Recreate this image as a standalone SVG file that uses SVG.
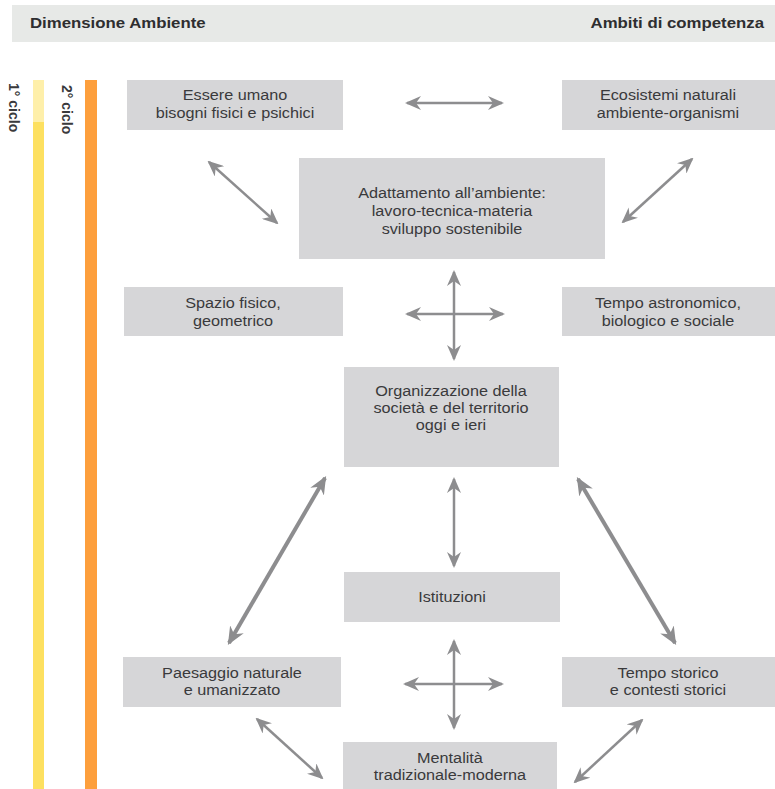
<svg xmlns="http://www.w3.org/2000/svg" width="775" height="789" viewBox="0 0 775 789">
<style>
.box{fill:#d6d6d8}
.t{font-family:"Liberation Sans",Arial,sans-serif;font-size:14.5px;fill:#3a3a3c;text-anchor:middle;transform-box:fill-box;transform-origin:center;transform:scaleX(1.12)}
.h{font-family:"Liberation Sans",Arial,sans-serif;font-size:15px;font-weight:bold;fill:#2e2e30}
.hl{transform-box:fill-box;transform-origin:left center;transform:scaleX(1.12)}
.hr{text-anchor:end;transform-box:fill-box;transform-origin:right center;transform:scaleX(1.12)}
.v{font-family:"Liberation Sans",Arial,sans-serif;font-size:14px;font-weight:bold;fill:#3a3a3c}
.a{stroke:#8d8d8f;stroke-width:2.5;fill:none;marker-start:url(#ah);marker-end:url(#ah)}
.al{stroke:#8d8d8f;stroke-width:4;fill:none;marker-start:url(#ahl);marker-end:url(#ahl)}
</style>
<defs>
<marker id="ah" viewBox="0 0 16 14" markerWidth="16" markerHeight="14" refX="14" refY="7" orient="auto-start-reverse" markerUnits="userSpaceOnUse">
<path d="M0,0 L16,7 L0,14 L5,7 z" fill="#8d8d8f"/>
</marker>
<marker id="ahl" viewBox="0 0 16 14" markerWidth="18" markerHeight="16" refX="14" refY="7" orient="auto-start-reverse" markerUnits="userSpaceOnUse">
<path d="M0,0 L16,7 L0,14 L5,7 z" fill="#8d8d8f"/>
</marker>
</defs>
<rect width="775" height="789" fill="#ffffff"/>
<g id="header">
<rect x="12" y="5" width="763" height="37" fill="#e7e9e7"/>
<text class="h hl" x="30" y="28">Dimensione Ambiente</text>
<text class="h hr" x="764" y="28">Ambiti di competenza</text>
</g>
<g id="cicli">
<rect x="33" y="80" width="11" height="42" fill="#feefaa"/>
<rect x="33" y="122" width="11" height="667" fill="#fde060"/>
<rect x="85" y="80" width="12" height="709" fill="#fd9f3c"/>
<text class="v" transform="translate(9,83) rotate(90)">1° ciclo</text>
<text class="v" transform="translate(62,85) rotate(90)">2° ciclo</text>
</g>
<g id="essere">
<rect class="box" x="127" y="80" width="216" height="50"/>
<text class="t" x="235" y="100">Essere umano</text>
<text class="t" x="235" y="118">bisogni fisici e psichici</text>
</g>
<g id="ecosistemi">
<rect class="box" x="562" y="80" width="213" height="50"/>
<text class="t" x="668" y="100">Ecosistemi naturali</text>
<text class="t" x="668" y="118">ambiente-organismi</text>
</g>
<g id="adattamento">
<rect class="box" x="299" y="158" width="306" height="101"/>
<text class="t" x="452" y="198">Adattamento all’ambiente:</text>
<text class="t" x="452" y="216">lavoro-tecnica-materia</text>
<text class="t" x="452" y="234">sviluppo sostenibile</text>
</g>
<g id="spazio">
<rect class="box" x="124" y="287" width="219" height="49"/>
<text class="t" x="233" y="308">Spazio fisico,</text>
<text class="t" x="233" y="326">geometrico</text>
</g>
<g id="tempo-astronomico">
<rect class="box" x="562" y="287" width="213" height="49"/>
<text class="t" x="668" y="308">Tempo astronomico,</text>
<text class="t" x="668" y="326">biologico e sociale</text>
</g>
<g id="organizzazione">
<rect class="box" x="344" y="367" width="215" height="100"/>
<text class="t" x="451" y="396">Organizzazione della</text>
<text class="t" x="451" y="413">società e del territorio</text>
<text class="t" x="451" y="430">oggi e ieri</text>
</g>
<g id="istituzioni">
<rect class="box" x="344" y="572" width="216" height="50"/>
<text class="t" x="452" y="602">Istituzioni</text>
</g>
<g id="paesaggio">
<rect class="box" x="123" y="657" width="218" height="50"/>
<text class="t" x="232" y="678">Paesaggio naturale</text>
<text class="t" x="232" y="695">e umanizzato</text>
</g>
<g id="tempo-storico">
<rect class="box" x="562" y="657" width="213" height="50"/>
<text class="t" x="668" y="678">Tempo storico</text>
<text class="t" x="668" y="695">e contesti storici</text>
</g>
<g id="mentalita">
<rect class="box" x="343" y="742" width="214" height="47"/>
<text class="t" x="450" y="763">Mentalità</text>
<text class="t" x="450" y="780">tradizionale-moderna</text>
</g>
<g id="connectors">
<line class="a" x1="407" y1="103" x2="502" y2="103"/>
<line class="a" x1="209" y1="162" x2="277" y2="223"/>
<line class="a" x1="692" y1="159" x2="623" y2="222"/>
<line class="a" x1="454" y1="272" x2="454" y2="359"/>
<line class="a" x1="407" y1="314" x2="503" y2="314"/>
<line class="a" x1="454" y1="479" x2="454" y2="566"/>
<line class="al" x1="325" y1="478" x2="229" y2="643"/>
<line class="al" x1="578" y1="479" x2="675" y2="643"/>
<line class="a" x1="454" y1="641" x2="454" y2="728"/>
<line class="a" x1="405" y1="684" x2="502" y2="684"/>
<line class="a" x1="257" y1="719" x2="322" y2="778"/>
<line class="a" x1="642" y1="720" x2="575" y2="782"/>
</g>
</svg>
